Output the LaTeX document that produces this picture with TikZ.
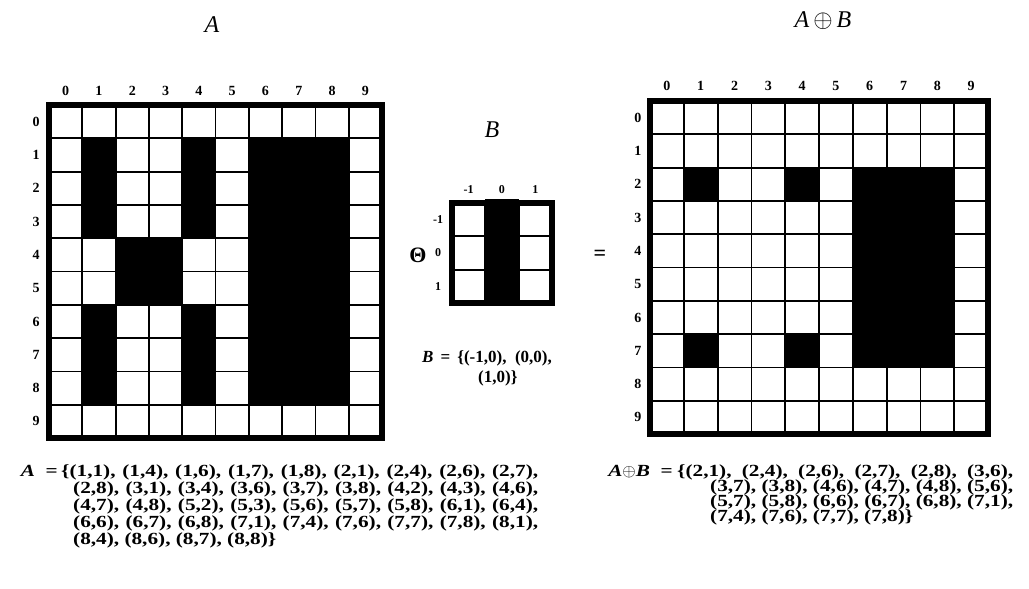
\documentclass[tikz,border=0pt]{standalone}
\usepackage{fontspec}
\setmainfont{Liberation Serif}
\newfontfamily\listfont{Liberation Serif}[FakeStretch=1.25]
\begin{document}
\begin{tikzpicture}[x=1pt,y=-1pt,
  inner/.style={line width=1.8pt},
  outer/.style={line width=6pt},
  cellfill/.style={fill=black},
  lbl/.style={font=\fontsize{14}{16}\selectfont\bfseries, inner sep=0pt},
  ttl/.style={font=\fontsize{24}{28}\selectfont\itshape, inner sep=0pt},
  lst/.style={font=\fontsize{17}{20}\selectfont\listfont\bfseries, inner sep=0pt},
  bst/.style={font=\fontsize{17}{20}\selectfont\bfseries, inner sep=0pt},
  op/.style={font=\fontsize{22}{26}\selectfont\bfseries, inner sep=0pt}]
\useasboundingbox[fill=white] (0,0) rectangle (1029,589);

% ---------- titles ----------
\node[ttl] (tA) at (212,25) {A};
\node[ttl] (tB) at (492,130) {B};
\node[ttl] (tAB) at (823,21) {A\,$\oplus$\,B};

% ---------- grid A ----------
\begin{scope}[shift={(49,105)}, x=33.3pt, y=-33.3pt]
  \fill[cellfill] (1,1) rectangle (2,4);
  \fill[cellfill] (1,6) rectangle (2,9);
  \fill[cellfill] (4,1) rectangle (5,4);
  \fill[cellfill] (4,6) rectangle (5,9);
  \fill[cellfill] (2,4) rectangle (4,6);
  \fill[cellfill] (6,1) rectangle (9,9);
  \foreach \i in {1,...,9} {
    \draw[inner] (\i,0) -- (\i,10);
    \draw[inner] (0,\i) -- (10,\i);
  }
  \draw[outer] (0,0) rectangle (10,10);
  \foreach \i in {0,...,9} {
    \node[lbl] (Ac\i) at (\i+0.5,-0.42) {\i};
    \node[lbl] (Ar\i) at (-0.39,\i+0.5) {\i};
  }
\end{scope}

% ---------- grid B ----------
\begin{scope}[shift={(452,203)}, x=33.3pt, y=-33.3pt]
  \fill[cellfill] (1,-0.12) rectangle (2,3);
  \foreach \i in {1,2} {
    \draw[inner] (\i,0) -- (\i,3);
    \draw[inner] (0,\i) -- (3,\i);
  }
  \draw[outer] (0,0) rectangle (3,3);
  \foreach \v/\t [count=\k from 0] in {0/-1,1/0,2/1} {
    \node[lbl, font=\fontsize{12}{14}\selectfont\bfseries] (Bc\k) at (\v+0.5,-0.39) {\t};
    \node[lbl, font=\fontsize{12}{14}\selectfont\bfseries] (Br\k) at (-0.42,\v+0.5) {\t};
  }
\end{scope}

% ---------- grid A (+) B ----------
\begin{scope}[shift={(650,101)}, x=33.8pt, y=-33.3pt]
  \fill[cellfill] (1,2) rectangle (2,3);
  \fill[cellfill] (4,2) rectangle (5,3);
  \fill[cellfill] (1,7) rectangle (2,8);
  \fill[cellfill] (4,7) rectangle (5,8);
  \fill[cellfill] (6,2) rectangle (9,8);
  \foreach \i in {1,...,9} {
    \draw[inner] (\i,0) -- (\i,10);
    \draw[inner] (0,\i) -- (10,\i);
  }
  \draw[outer] (0,0) rectangle (10,10);
  \foreach \i in {0,...,9} {
    \node[lbl] (Cc\i) at (\i+0.5,-0.45) {\i};
    \node[lbl] (Cr\i) at (-0.36,\i+0.5) {\i};
  }
\end{scope}

% ---------- operators ----------
\node[op] (theta) at (418,255) {Θ};
\node[op] (eq) at (600,255) {=};

% ---------- B set ----------
\node[bst, anchor=base west] (Bset1) at (422,362) {\textit{B} \,=\, \{(-1,0), \ (0,0),};
\node[bst, anchor=base west] (Bset2) at (478,382) {(1,0)\}};

% ---------- A set ----------
\node[lst, anchor=base east] (Aeq) at (58,476) {\textit{A} \ =};
\node[lst, anchor=base west] (Al1) at (61,476) {\makebox[477pt][s]{\{(1,1), (1,4), (1,6), (1,7), (1,8), (2,1), (2,4), (2,6), (2,7),}};
\node[lst, anchor=base west] (Al2) at (73,493) {\makebox[465pt][s]{(2,8), (3,1), (3,4), (3,6), (3,7), (3,8), (4,2), (4,3), (4,6),}};
\node[lst, anchor=base west] (Al3) at (73,510) {\makebox[465pt][s]{(4,7), (4,8), (5,2), (5,3), (5,6), (5,7), (5,8), (6,1), (6,4),}};
\node[lst, anchor=base west] (Al4) at (73,527) {\makebox[465pt][s]{(6,6), (6,7), (6,8), (7,1), (7,4), (7,6), (7,7), (7,8), (8,1),}};
\node[lst, anchor=base west] (Al5) at (73,544) {(8,4), (8,6), (8,7), (8,8)\}};

% ---------- A (+) B set ----------
\node[lst, anchor=base east] (ABeq) at (673,476) {\textit{A}$\oplus$\textit{B} \ =};
\node[lst, anchor=base west] (Cl1) at (677,476) {\makebox[336pt][s]{\{(2,1), (2,4), (2,6), (2,7), (2,8), (3,6),}};
\node[lst, anchor=base west] (Cl2) at (710,491) {\makebox[303pt][s]{(3,7), (3,8), (4,6), (4,7), (4,8), (5,6),}};
\node[lst, anchor=base west] (Cl3) at (710,506) {\makebox[303pt][s]{(5,7), (5,8), (6,6), (6,7), (6,8), (7,1),}};
\node[lst, anchor=base west] (Cl4) at (710,521) {(7,4), (7,6), (7,7), (7,8)\}};
\end{tikzpicture}
\end{document}
